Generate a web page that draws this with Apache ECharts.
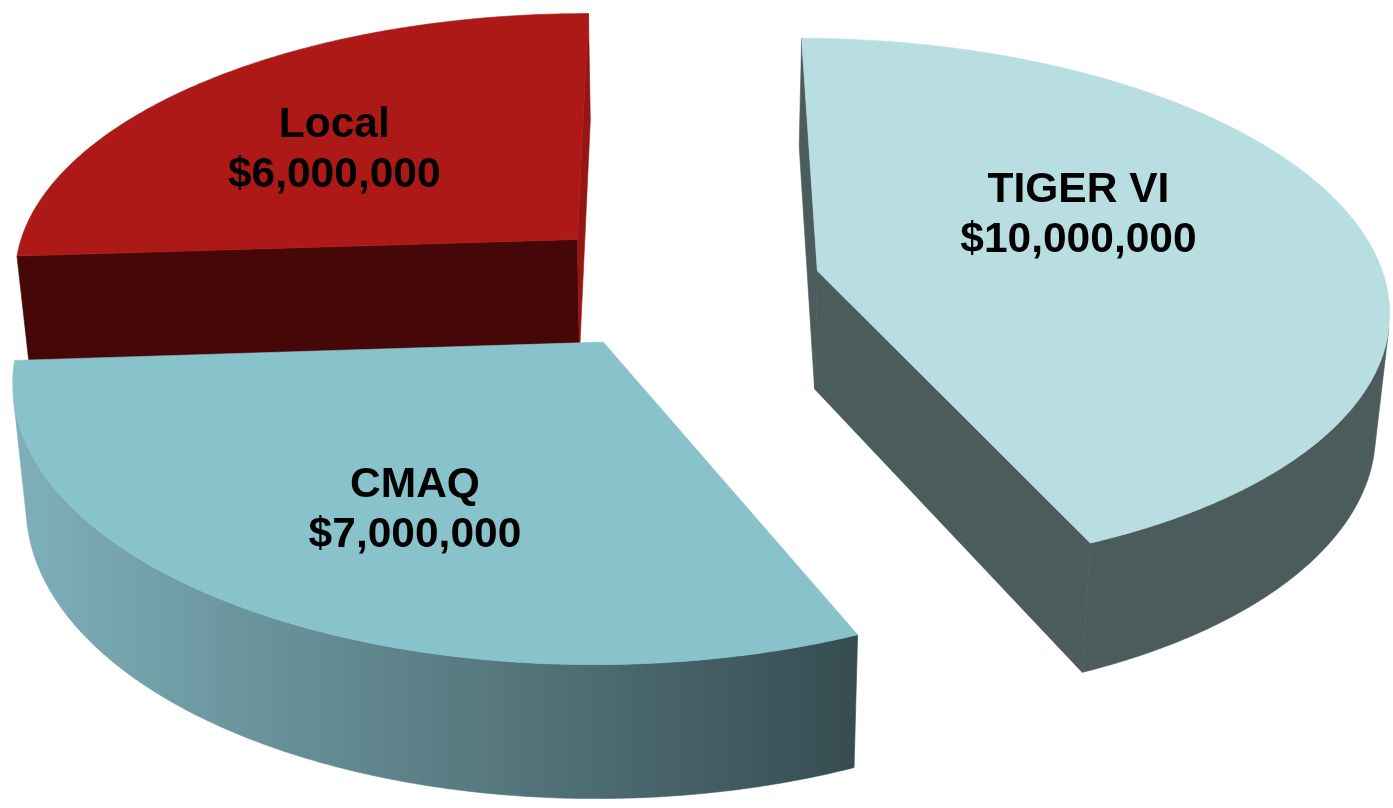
<!DOCTYPE html>
<html>
<head>
<meta charset="utf-8">
<style>html,body{margin:0;padding:0;background:#fff}#chart{width:1393px;height:808px}</style>
<script src="https://cdn.jsdelivr.net/npm/echarts@6/dist/echarts.min.js"></script>
</head>
<body>
<div id="chart"></div>
<script>
// Funding sources, listed clockwise starting from the slice that ends at twelve o'clock.
const categories = ['Local', 'TIGER VI', 'CMAQ'];
const amounts = [6000000, 10000000, 7000000];

const topColors = ['#ac1917', '#b9dee1', '#88c3cc'];
const startFaceColors = ['#450707', '#4c5b5c', '#3a5055'];
const endFaceColors = ['#951614', '#4c5b5c', '#7aa9b2'];
const rimColors = [
  ['#450707', '#450707'],
  ['#4c5b5c', '#4c5b5c'],
  ['#7fb0ba', '#364c51']
];
// Label placement inside each slice: angle in degrees clockwise from north, fraction of radius.
const labelAngles = [308.5, 65.6, 207.6];
const labelRadii = [0.593, 0.53, 0.6287];

// Camera used to project the tilted disc onto the page.
const view = {
  centerX: 662, scaleX: 568.5, depth: 2084, tilt: 0.1273, horizon: -1800,
  thickness: 1.0715, thickFade: 6.6e-6, nadirX: 680, lean: 0.02,
  explode: 0.25, offsetX: 0.03, rotation: 0.2
};
const total = amounts.reduce((a, b) => a + b, 0);
const firstAngle = view.rotation - 360 * amounts[0] / total;
const rad = d => d * Math.PI / 180;

function projectTop(X, Y) {
  const w = view.depth / (1 + view.tilt * Y);
  return [view.centerX + view.scaleX * (X + view.offsetX) / (1 + view.tilt * Y), view.horizon + w];
}
function projectBottom(X, Y) {
  const w = view.depth / (1 + view.tilt * Y);
  const top = projectTop(X, Y);
  return [
    view.nadirX + (top[0] - view.nadirX) * (1 - view.lean),
    view.horizon + view.thickness / (1 / w + view.thickFade)
  ];
}
function signedArea(pts) {
  let s = 0;
  pts.forEach((p, i) => {
    const q = pts[(i + 1) % pts.length];
    s += p[0] * q[1] - q[0] * p[1];
  });
  return s;
}
function solid(points, fill) {
  return { type: 'polygon', shape: { points }, style: { fill, stroke: fill, lineWidth: 0.6, lineJoin: 'round' } };
}

function renderSlice(params, api) {
  const i = params.dataIndex;
  const value = api.value(0);
  let before = 0;
  for (let k = 0; k < i; k++) before += amounts[k];
  const a0 = firstAngle + 360 * before / total;
  const a1 = a0 + 360 * value / total;
  const mid = rad((a0 + a1) / 2);
  const cx = view.explode * Math.sin(mid);
  const cy = view.explode * Math.cos(mid);
  const rimPoint = a => [cx + Math.sin(rad(a)), cy + Math.cos(rad(a))];

  const topArc = [];
  const bottomArc = [];
  const steps = Math.ceil((a1 - a0) * 2);
  for (let s = 0; s <= steps; s++) {
    const p = rimPoint(a0 + (a1 - a0) * s / steps);
    topArc.push(projectTop(p[0], p[1]));
    bottomArc.push(projectBottom(p[0], p[1]));
  }

  const apexTop = projectTop(cx, cy);
  const apexBottom = projectBottom(cx, cy);
  const children = [];

  // The outer wall: only the stretch of arc that faces the viewer, so its
  // far end closes with a straight silhouette edge.
  const wallTop = [];
  const wallBottom = [];
  for (let s = 0; s < steps; s++) {
    const quad = [topArc[s], topArc[s + 1], bottomArc[s + 1], bottomArc[s]];
    if (signedArea(quad) < 0) {
      if (!wallTop.length) {
        wallTop.push(topArc[s]);
        wallBottom.push(bottomArc[s]);
      }
      wallTop.push(topArc[s + 1]);
      wallBottom.push(bottomArc[s + 1]);
    }
  }
  if (wallTop.length) {
    const rimFill = new echarts.graphic.LinearGradient(0, 0, 1, 0, [
      { offset: 0, color: rimColors[i][0] },
      { offset: 1, color: rimColors[i][1] }
    ]);
    children.push(solid(wallTop.concat(wallBottom.slice().reverse()), rimFill));
  }

  // Radial cut faces are only drawn when they turn towards the viewer.
  const startFace = [apexTop, topArc[0], bottomArc[0], apexBottom];
  const endFace = [apexTop, topArc[steps], bottomArc[steps], apexBottom];
  if (signedArea(startFace) < 0) {
    children.push(solid(startFace, startFaceColors[i]));
  }
  if (signedArea(endFace) > 0) {
    children.push(solid(endFace, endFaceColors[i]));
  }

  children.push(solid([apexTop].concat(topArc), topColors[i]));

  const la = rad(labelAngles[i]);
  const labelPos = projectTop(cx + labelRadii[i] * Math.sin(la), cy + labelRadii[i] * Math.cos(la));
  children.push({
    type: 'text',
    style: {
      x: labelPos[0],
      y: labelPos[1],
      text: categories[i] + '\n$' + value.toLocaleString('en-US'),
      font: 'bold 42.5px "Liberation Sans", Arial, sans-serif',
      lineHeight: 50,
      fill: '#000',
      align: 'center',
      verticalAlign: 'middle'
    }
  });
  return { type: 'group', children };
}

const chart = echarts.init(document.getElementById('chart'), null, { renderer: 'canvas' });
chart.setOption({
  animation: false,
  backgroundColor: '#ffffff',
  series: [{
    type: 'custom',
    coordinateSystem: 'none',
    renderItem: renderSlice,
    data: amounts.map((v, i) => ({ name: categories[i], value: [v] }))
  }]
});
</script>
</body>
</html>
